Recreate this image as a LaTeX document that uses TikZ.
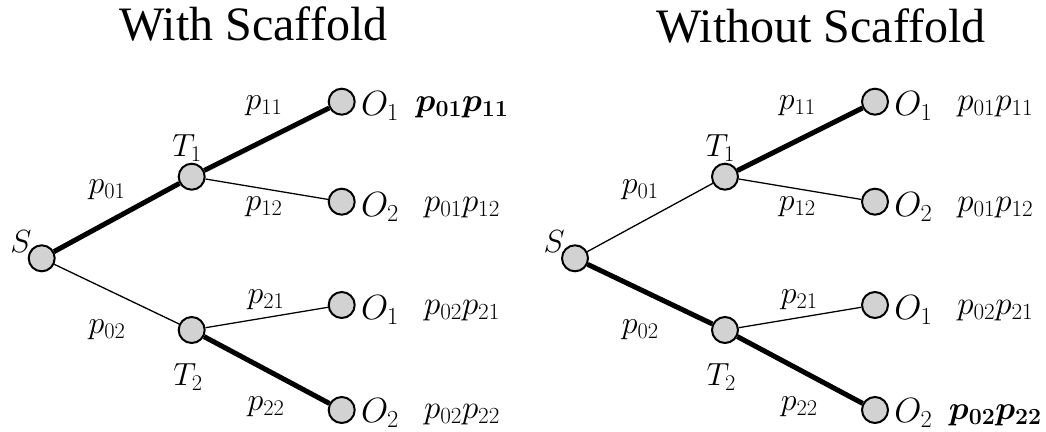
\RequirePackage{fix-cm}
\documentclass[tikz,border=0pt]{standalone}
\usepackage{fontspec}
\setmainfont{Liberation Serif}
\begin{document}
\begin{tikzpicture}[x=1pt,y=-1pt,
  vtx/.style={circle,draw,line width=2pt,fill=gray!35,minimum size=26pt,inner sep=0pt},
  heavy/.style={line width=5pt},
  light/.style={line width=1.3pt},
  ttl/.style={font=\fontsize{48}{50}\selectfont,anchor=base,inner sep=0pt},
  plab/.style={font=\fontsize{32}{34}\selectfont,inner sep=0pt},
  tlab/.style={font=\fontsize{32}{34}\selectfont,inner sep=0pt},
  olab/.style={font=\fontsize{35}{36}\selectfont,inner sep=0pt},
  prod/.style={font=\fontsize{33}{34}\selectfont,inner sep=0pt},
  prodb/.style={font=\fontsize{33}{34}\selectfont\boldmath,inner sep=0pt}]
\useasboundingbox (0,0) rectangle (1046,431);

% titles
\node[ttl] (t1) at (253.5,40) {With Scaffold};
\node[ttl] (t2) at (821,42) {Without Scaffold};

% ---------- left tree ----------
\node[vtx] (aS) at (41.7,258.3) {};
\node[vtx] (aT1) at (191.7,176.7) {};
\node[vtx] (aT2) at (191.7,330) {};
\node[vtx] (aO1) at (341.7,101.7) {};
\node[vtx] (aO2) at (341.7,201.7) {};
\node[vtx] (aO3) at (341.7,305) {};
\node[vtx] (aO4) at (341.7,410) {};
\draw[heavy] (aS) -- (aT1);
\draw[light] (aS) -- (aT2);
\draw[heavy] (aT1) -- (aO1);
\draw[light] (aT1) -- (aO2);
\draw[light] (aT2) -- (aO3);
\draw[heavy] (aT2) -- (aO4);
\node[tlab] (aSl) at (21,242) {$S$};
\node[tlab] (aT1l) at (187,148) {$T_1$};
\node[tlab] (aT2l) at (188,377) {$T_2$};
\node[plab] (ap01) at (107,190) {$p_{01}$};
\node[plab] (ap02) at (107,330) {$p_{02}$};
\node[plab] (ap11) at (264,106) {$p_{11}$};
\node[plab] (ap12) at (264,207) {$p_{12}$};
\node[plab] (ap21) at (266,300) {$p_{21}$};
\node[plab] (ap22) at (266,407) {$p_{22}$};
\node[olab] (aO1l) at (380,106) {$O_1$};
\node[olab] (aO2l) at (380,207) {$O_2$};
\node[olab] (aO3l) at (380,310) {$O_1$};
\node[olab] (aO4l) at (380,413) {$O_2$};
\node[prodb] (ar1) at (462,107) {$p_{01}p_{11}$};
\node[prod] (ar2) at (462,208) {$p_{01}p_{12}$};
\node[prod] (ar3) at (462,311) {$p_{02}p_{21}$};
\node[prod] (ar4) at (462,415) {$p_{02}p_{22}$};

% ---------- right tree ----------
\begin{scope}[xshift=533.3pt]
\node[vtx] (bS) at (41.7,258.3) {};
\node[vtx] (bT1) at (191.7,176.7) {};
\node[vtx] (bT2) at (191.7,330) {};
\node[vtx] (bO1) at (341.7,101.7) {};
\node[vtx] (bO2) at (341.7,201.7) {};
\node[vtx] (bO3) at (341.7,305) {};
\node[vtx] (bO4) at (341.7,410) {};
\draw[light] (bS) -- (bT1);
\draw[heavy] (bS) -- (bT2);
\draw[heavy] (bT1) -- (bO1);
\draw[light] (bT1) -- (bO2);
\draw[light] (bT2) -- (bO3);
\draw[heavy] (bT2) -- (bO4);
\node[tlab] (bSl) at (21,242) {$S$};
\node[tlab] (bT1l) at (187,148) {$T_1$};
\node[tlab] (bT2l) at (188,377) {$T_2$};
\node[plab] (bp01) at (107,190) {$p_{01}$};
\node[plab] (bp02) at (107,330) {$p_{02}$};
\node[plab] (bp11) at (264,106) {$p_{11}$};
\node[plab] (bp12) at (264,207) {$p_{12}$};
\node[plab] (bp21) at (266,300) {$p_{21}$};
\node[plab] (bp22) at (266,407) {$p_{22}$};
\node[olab] (bO1l) at (380,106) {$O_1$};
\node[olab] (bO2l) at (380,207) {$O_2$};
\node[olab] (bO3l) at (380,310) {$O_1$};
\node[olab] (bO4l) at (380,413) {$O_2$};
\node[prod] (br1) at (462,107) {$p_{01}p_{11}$};
\node[prod] (br2) at (462,208) {$p_{01}p_{12}$};
\node[prod] (br3) at (462,311) {$p_{02}p_{21}$};
\node[prodb] (br4) at (462,415) {$p_{02}p_{22}$};
\end{scope}
\end{tikzpicture}
\end{document}
